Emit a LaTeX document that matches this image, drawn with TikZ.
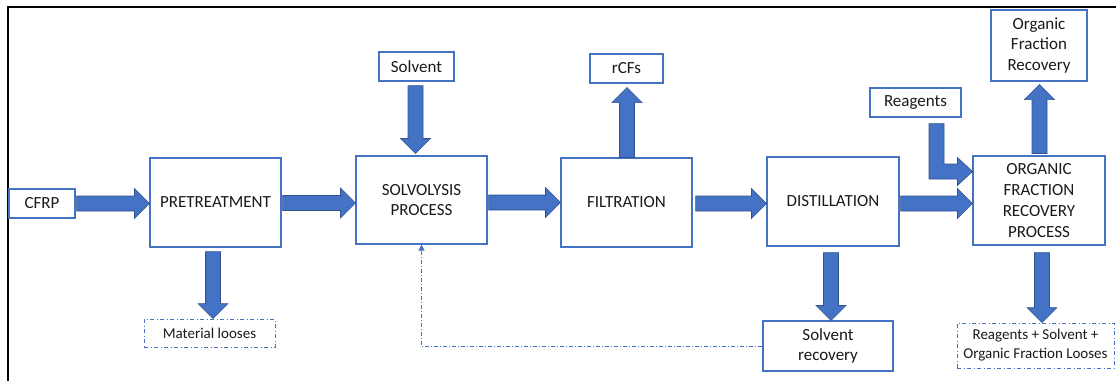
\documentclass[tikz,border=0pt]{standalone}
\usepackage{fontspec}
\setmainfont{Carlito}
\usetikzlibrary{calc,arrows.meta}

\definecolor{accent}{HTML}{4472C4}
\definecolor{accentdark}{HTML}{2F528F}
\definecolor{ink}{HTML}{1A1A1A}

\tikzset{
  box/.style={draw=accent, line width=1.1pt, fill=white, text=ink,
    inner sep=0pt, align=center, font=\fontsize{17}{20.7}\selectfont},
  lossbox/.style={box, line width=0.9pt, dash pattern=on 4pt off 2.5pt on 1pt off 2.5pt,
    font=\fontsize{15}{19}\selectfont},
  arrowbody/.style={fill=accent, draw=accentdark, line width=0.6pt, line join=miter},
  feedback/.style={draw=accent, line width=0.9pt,
    dash pattern=on 4pt off 2pt on 1pt off 2pt,
    -{Triangle[length=6pt,width=6pt]}}
}

% block arrow between two points: shaft 15, head 30 wide and 15 long
\newcommand{\blockarrow}[2]{%
  \path (#1) coordinate (ba-s) (#2) coordinate (ba-t);
  \path ($(ba-t)!15pt!(ba-s)$) coordinate (ba-h);
  \draw[arrowbody]
    ($(ba-s)!7.5pt!90:(ba-t)$) -- ($(ba-h)!7.5pt!90:(ba-t)$) --
    ($(ba-h)!15pt!90:(ba-t)$) -- (ba-t) --
    ($(ba-h)!15pt!-90:(ba-t)$) -- ($(ba-h)!7.5pt!-90:(ba-t)$) --
    ($(ba-s)!7.5pt!-90:(ba-t)$) -- cycle;
}

\begin{document}
\begin{tikzpicture}[x=1pt,y=-1pt]
\useasboundingbox (0,0) rectangle (1116,381);

% page frame
\draw[line width=2pt, black] (7.5,381) -- (7.5,7) -- (1116,7);

% process blocks
\node[box, minimum width=66pt,  minimum height=29pt] (cfrp)    at (42,203.5)   {CFRP};
\node[box, minimum width=131pt, minimum height=89pt] (pre)     at (215.5,202.5) {PRETREATMENT};
\node[lossbox, minimum width=131pt, minimum height=28pt] (loss1) at (209.5,333) {Material looses};
\node[box, minimum width=131pt, minimum height=88pt] (solv)    at (421.5,200)  {SOLVOLYSIS\\PROCESS};
\node[box, minimum width=75pt,  minimum height=29pt] (solvent) at (416.5,66.5) {Solvent};
\node[box, minimum width=131pt, minimum height=89pt] (filt)    at (626.5,202.5) {FILTRATION};
\node[box, minimum width=73pt,  minimum height=29pt] (rcfs)    at (626.5,68.5) {rCFs};
\node[box, minimum width=132pt, minimum height=89pt] (dist)    at (833,201.5)  {DISTILLATION};
\node[box, minimum width=130pt, minimum height=50pt] (solrec)  at (828,346)    {Solvent\\recovery};
\node[box, minimum width=132pt, minimum height=89pt] (ofrp)    at (1039,200.5) {ORGANIC\\FRACTION\\RECOVERY\\PROCESS};
\node[box, minimum width=96pt,  minimum height=71pt] (ofr)     at (1039,45.5)  {Organic\\Fraction\\Recovery};
\node[box, minimum width=91pt,  minimum height=29pt] (reag)    at (915.5,102.5) {Reagents};
\node[lossbox, minimum width=157pt, minimum height=45pt] (loss2) at (1035.5,345.5) {Reagents + Solvent +\\Organic Fraction Looses};

% main line
\blockarrow{[xshift=1pt]cfrp.east}{cfrp.east -| pre.west}
\blockarrow{[xshift=1pt,yshift=-0.5pt]pre.east}{[yshift=-0.5pt]pre.east -| solv.west}
\blockarrow{[xshift=1pt]solv.east |- filt.west}{filt.west}
\blockarrow{[xshift=3pt,yshift=-1pt]filt.east}{[yshift=-1pt]filt.east -| dist.west}
\blockarrow{[xshift=1pt,yshift=-2pt]dist.east}{[yshift=-2pt]dist.east -| ofrp.west}

% side streams
\blockarrow{[xshift=-2.5pt,yshift=-4pt]pre.south}{[xshift=-2.5pt]pre.south |- loss1.north}
\blockarrow{[xshift=-1pt,yshift=-4pt]solvent.south}{[xshift=-1pt,yshift=2pt]solvent.south |- solv.north}
\blockarrow{[xshift=0.5pt]filt.north}{[xshift=0.5pt,yshift=-4pt]filt.north |- rcfs.south}
\blockarrow{[xshift=-2pt,yshift=-6pt]dist.south}{[xshift=-2pt]dist.south |- solrec.north}
\blockarrow{[xshift=0.5pt,yshift=2pt]ofrp.north}{[xshift=0.5pt,yshift=-3pt]ofrp.north |- ofr.south}
\blockarrow{[xshift=3pt,yshift=-7pt]ofrp.south}{[xshift=3pt]ofrp.south |- loss2.north}

% reagents feed: bent block arrow into the recovery process
\coordinate (rgtop) at ([xshift=21pt,yshift=-6pt]reag.south);
\coordinate (rgtip) at ([yshift=29pt]ofrp.west);
\draw[arrowbody]
  ([xshift=-7.5pt]rgtop) -- ([xshift=7.5pt]rgtop) --
  ([xshift=7.5pt,yshift=7.5pt]rgtop |- rgtip) --
  ([xshift=-15pt,yshift=7.5pt]rgtip) -- ([xshift=-15pt,yshift=14pt]rgtip) --
  (rgtip) --
  ([xshift=-15pt,yshift=-14pt]rgtip) -- ([xshift=-15pt,yshift=-7.5pt]rgtip) --
  ([xshift=-7.5pt,yshift=-7.5pt]rgtop |- rgtip) -- cycle;

% solvent return loop
\draw[feedback] (solrec.west) -| (solv.south);
\end{tikzpicture}
\end{document}
